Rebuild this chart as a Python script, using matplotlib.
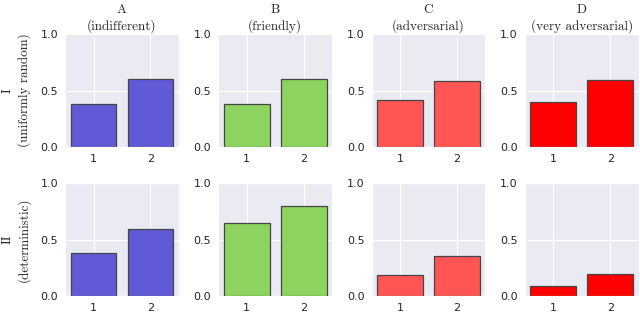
import matplotlib
matplotlib.use("Agg")
import matplotlib.pyplot as plt
import seaborn as sns

# columns: environment types, rows: policy types
col_letters = ["A", "B", "C", "D"]
col_names = ["(indifferent)", "(friendly)", "(adversarial)", "(very adversarial)"]
row_numerals = ["I", "II"]
row_names = ["(uniformly random)", "(deterministic)"]
colors = ["#605ad6", "#8dd35f", "#ff5555", "#ff0000"]
categories = [1, 2]

# values, [row][column] -> (bar 1, bar 2)
values_I = [[0.38, 0.60], [0.38, 0.605], [0.42, 0.587], [0.40, 0.593]]
values_II = [[0.38, 0.59], [0.65, 0.80], [0.186, 0.358], [0.089, 0.20]]
values = [values_I, values_II]

sns.set_style("darkgrid")
serif = ["cmr10", "DejaVu Serif"]

fig, axes = plt.subplots(2, 4, figsize=(6.4, 3.13), dpi=100)
plt.subplots_adjust(left=0.1016, right=0.998, top=0.891, bottom=0.054,
                    wspace=0.345, hspace=0.32)

for r in range(2):
    for c in range(4):
        ax = axes[r, c]
        ax.bar(categories, values[r][c], width=0.8, color=colors[c],
               edgecolor="#454545", linewidth=0.9)
        ax.set_xlim(0.5, 2.5)
        ax.set_ylim(0, 1.0)
        ax.set_xticks(categories)
        ax.set_yticks([0.0, 0.5, 1.0])
        ax.tick_params(labelsize=8, length=0, pad=5)
        if r == 0:
            ax.set_title(col_letters[c] + "\n" + col_names[c], fontsize=9.5,
                         family=serif, linespacing=1.35, pad=3)
        if c == 0:
            ax.set_ylabel(row_numerals[r] + "\n" + row_names[r], fontsize=9.5,
                          family=serif, linespacing=1.35, labelpad=7)

fig.savefig("out.png", dpi=100)
